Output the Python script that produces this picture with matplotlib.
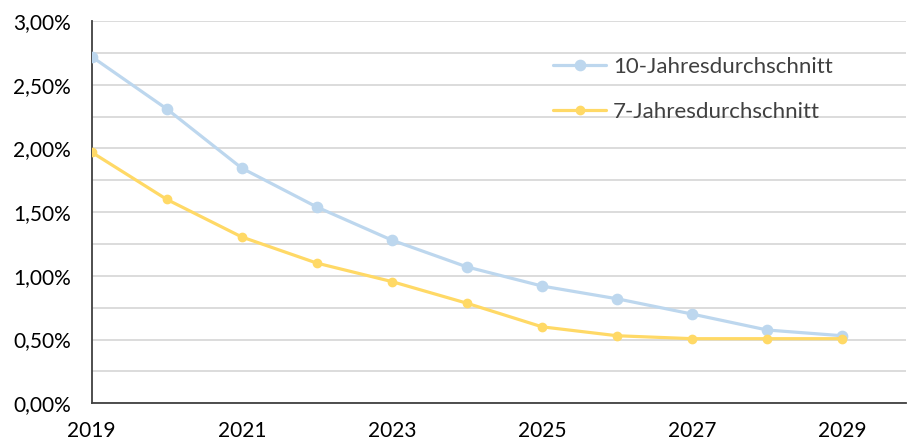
import matplotlib
matplotlib.use("Agg")
import matplotlib.pyplot as plt
import numpy as np

years = [2019, 2020, 2021, 2022, 2023, 2024, 2025, 2026, 2027, 2028, 2029]
avg10 = [2.72, 2.31, 1.845, 1.54, 1.28, 1.07, 0.92, 0.82, 0.70, 0.575, 0.53]
avg7 = [1.97, 1.60, 1.305, 1.10, 0.955, 0.785, 0.60, 0.53, 0.507, 0.507, 0.507]
series_names = ["10-Jahresdurchschnitt", "7-Jahresdurchschnitt"]
xtick_years = [2019, 2021, 2023, 2025, 2027, 2029]
yticks = [0.0, 0.25, 0.5, 0.75, 1.0, 1.25, 1.5, 1.75, 2.0, 2.25, 2.5, 2.75, 3.0]

plt.rcParams['font.family'] = ['Lato', 'DejaVu Sans']

fig = plt.figure(figsize=(9.07, 4.44), dpi=100)
ax = fig.add_axes([0.1011, 0.0917, 0.8979, 0.861])

ax.plot(years, avg10, color='#BDD7EE', lw=2.3, marker='o', ms=7.4,
        label=series_names[0], zorder=3, solid_capstyle='round')
ax.plot(years, avg7, color='#FFD966', lw=2.3, marker='o', ms=6.0,
        label=series_names[1], zorder=4, solid_capstyle='round')

ax.set_xlim(2019, 2029.85)
ax.set_ylim(0, 3.0)
ax.set_yticks(yticks)
ax.set_yticklabels([("%.2f%%" % v).replace('.', ',') if abs(v * 2 - round(v * 2)) < 1e-9 else ''
                    for v in yticks])
ax.set_xticks(xtick_years)
ax.set_xticklabels([str(y) for y in xtick_years])
ax.tick_params(axis='both', length=0, labelsize=15, colors='#000000')
ax.tick_params(axis='y', pad=15)
ax.tick_params(axis='x', pad=13)

ax.grid(axis='y', color='#D9D9D9', lw=1.3, zorder=0)
ax.set_axisbelow(True)
for s in ['top', 'right']:
    ax.spines[s].set_visible(False)
ax.spines['left'].set_color('#404040')
ax.spines['bottom'].set_color('#404040')
ax.spines['left'].set_linewidth(1.3)
ax.spines['bottom'].set_linewidth(1.3)

leg = ax.legend(loc='upper left', bbox_to_anchor=(0.5555, 0.93), frameon=False,
                fontsize=16, labelcolor='#404040', handlelength=2.4,
                handletextpad=0.3, labelspacing=1.15, borderaxespad=0)

fig.savefig("out.png", dpi=100)
